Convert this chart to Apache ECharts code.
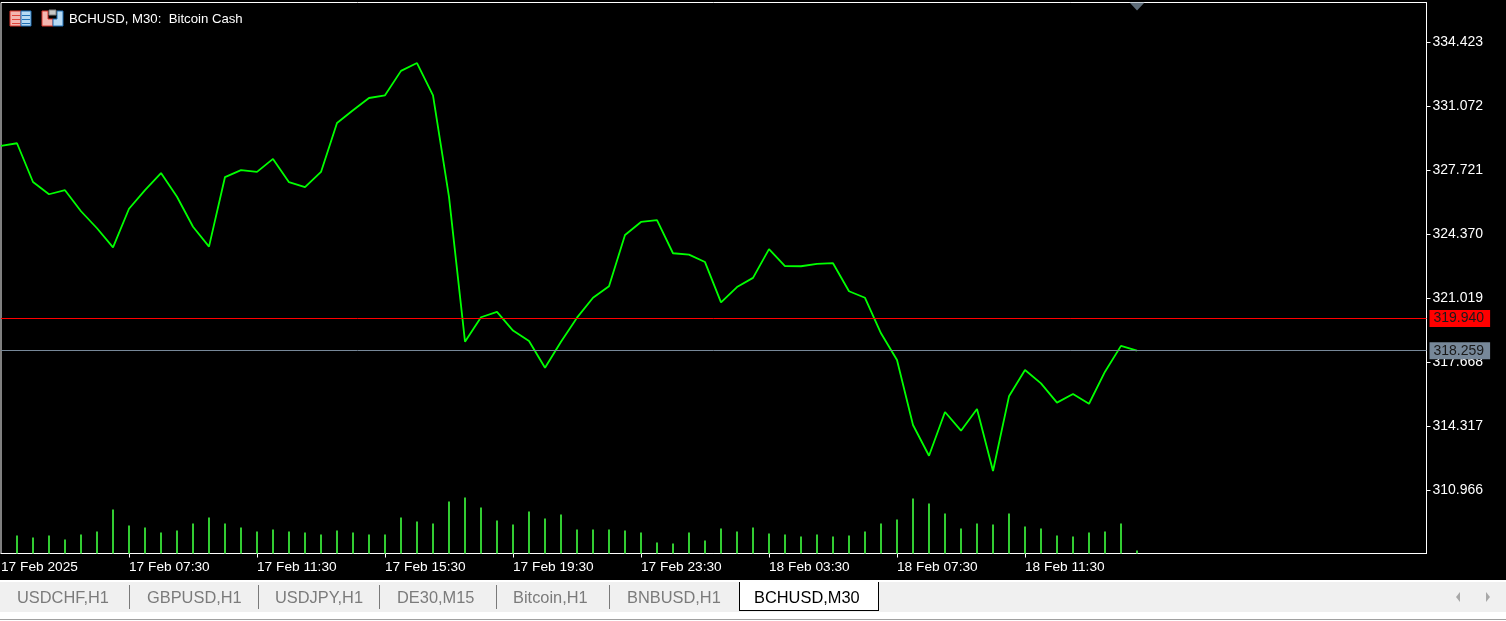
<!DOCTYPE html>
<html><head><meta charset="utf-8">
<style>html,body{margin:0;padding:0;background:#000;overflow:hidden}#c{width:1506px;height:621px}</style>
<script src="https://cdn.jsdelivr.net/npm/echarts@6/dist/echarts.min.js"></script>
</head><body><div id="c"></div>
<script>
const title = 'BCHUSD, M30:  Bitcoin Cash';
const prices = [328.98,329.12,327.09,326.45,326.66,325.56,324.67,323.67,325.69,326.67,327.56,326.32,324.75,323.71,327.35,327.71,327.62,328.30,327.08,326.82,327.62,330.18,330.85,331.49,331.63,332.91,333.32,331.63,326.31,318.73,320.01,320.29,319.31,318.77,317.37,318.73,319.99,321.03,321.63,324.32,325.00,325.09,323.36,323.29,322.90,320.79,321.59,322.07,323.58,322.69,322.68,322.80,322.84,321.37,321.03,319.17,317.77,314.37,312.76,315.05,314.07,315.21,311.96,315.87,317.25,316.55,315.54,315.99,315.48,317.16,318.51,318.26];
const volumes = [0,18,16,18,14,19,22,44,28,26,21,23,30,36,30,26,22,24,22,21,19,23,21,19,19,36,32,30,52,56,46,33,29,42,35,39,24,24,24,23,21,11,10,21,13,25,22,26,20,19,17,19,17,18,22,30,34,55,50,40,25,30,29,40,27,25,18,17,21,22,30,3];
const timeTicks = [0,8,16,24,32,40,48,56,64];
const timeLabels = ['17 Feb 2025','17 Feb 07:30','17 Feb 11:30','17 Feb 15:30','17 Feb 19:30','17 Feb 23:30','18 Feb 03:30','18 Feb 07:30','18 Feb 11:30'];
const priceTicks = [334.423,331.072,327.721,324.370,321.019,317.668,314.317,310.966];
const askPrice = 319.940, bidPrice = 318.259;
const tabs = ['USDCHF,H1','GBPUSD,H1','USDJPY,H1','DE30,M15','Bitcoin,H1','BNBUSD,H1','BCHUSD,M30'];

const FONT = '"Liberation Sans"';
const tabX = [17,147,275,397,513,627,754];
const sepX = [129,258,379,496,609];
const rect = (x,y,w,h,fill,extra)=>Object.assign({type:'rect',silent:true,shape:{x,y,width:w,height:h},style:{fill}},extra||{});
const g = [];
g.push(rect(0,580,1506,2,'#ffffff'));
g.push(rect(0,582,1506,30,'#f0f0f0'));
g.push(rect(0,612,1506,9,'#ffffff'));
g.push(rect(0,619,1506,1,'#a0a0a0'));
sepX.forEach(x=>g.push(rect(x,585,1,24,'#7a7a7a')));
g.push(rect(739,582,140,29,'#000000'));
g.push(rect(740,582,138,28,'#ffffff'));
tabs.forEach((t,i)=>g.push({type:'text',silent:true,style:{text:t,x:tabX[i],y:598,verticalAlign:'middle',align:'left',font:'16.4px '+FONT,fill:i===6?'#000000':'#7b7b7b'}}));
[[1458,-1],[1488,1]].forEach(([x,d])=>g.push({type:'polygon',silent:true,shape:{points:[[x-d*2,592],[x+d*2,597],[x-d*2,602]]},style:{fill:'#a8a8a8'}}));
g.push(rect(10,11,11,15,'#f4b6b0',{style:{fill:'#f4b6b0',stroke:'#d9342b',lineWidth:1}}));
g.push(rect(21,11,10,15,'#b6daf4',{style:{fill:'#b6daf4',stroke:'#1f6fb5',lineWidth:1}}));
[15,19,23].forEach(y=>{g.push(rect(12,y,8,1,'#e0443a'));g.push(rect(22,y,8,1,'#1f6fb5'));});
g.push({type:'polygon',silent:true,shape:{points:[[42,11],[48,11],[48,19],[53,19],[53,26],[42,26]]},style:{fill:'#f4b6b0',stroke:'#d9342b',lineWidth:1}});
g.push({type:'polygon',silent:true,shape:{points:[[57,11],[63,11],[63,26],[53,26],[53,19],[57,19]]},style:{fill:'#b6daf4',stroke:'#1f6fb5',lineWidth:1}});
g.push(rect(49,10,7,5,'#c8c8c8',{style:{fill:'#c8c8c8',stroke:'#808080',lineWidth:1}}));
g.push({type:'text',silent:true,style:{text:title,x:69,y:19,verticalAlign:'middle',font:'13.2px '+FONT,fill:'#ffffff'}});

const lastIndex = prices.length-1;
const chart = echarts.init(document.getElementById('c'),null,{renderer:'canvas'});
const priceLabel = (bg)=>({show:true,position:'end',distance:3,formatter:p=>p.value.toFixed(3),color:'#1a1a1a',backgroundColor:bg,fontFamily:FONT,fontSize:14,padding:[2,6,1,4],align:'left',verticalAlign:'middle'});
chart.setOption({
  animation:false,
  backgroundColor:'#000',
  graphic:g,
  grid:{left:1,top:2.5,width:1425.5,height:551,outerBoundsMode:'none',show:true,borderColor:'#fff',borderWidth:1,backgroundColor:'#000'},
  xAxis:{type:'value',min:0,max:1425.5/16,splitLine:{show:false},
    axisLine:{show:true,onZero:false,lineStyle:{color:'#fff'}},
    axisTick:{show:true,length:4,lineStyle:{color:'#fff'},customValues:timeTicks.slice(1)},
    axisLabel:{color:'#fff',fontFamily:FONT,fontSize:13.7,margin:7,align:'left',hideOverlap:false,showMinLabel:true,
      customValues:timeTicks,formatter:v=>timeLabels[timeTicks.indexOf(v)]||''}},
  yAxis:[
    {type:'value',position:'right',min:307.64,max:336.49,splitLine:{show:false},
      axisLine:{show:true,onZero:false,lineStyle:{color:'#fff'}},
      axisTick:{show:true,length:4,lineStyle:{color:'#fff'},customValues:priceTicks},
      axisLabel:{color:'#fff',fontFamily:FONT,fontSize:14,margin:6,customValues:priceTicks,formatter:v=>v.toFixed(3)}},
    {type:'value',min:0,max:551,show:false,splitLine:{show:false}}
  ],
  series:[
    {type:'bar',yAxisIndex:1,barWidth:2,silent:true,itemStyle:{color:'#32CD32'},data:volumes.map((v,i)=>[i,v])},
    {type:'line',yAxisIndex:0,showSymbol:false,symbol:'none',silent:true,z:5,lineStyle:{color:'#00FF00',width:1.8},data:prices.map((v,i)=>[i,v]),
      markLine:{silent:true,symbol:'none',animation:false,z:20,precision:3,data:[
        {yAxis:askPrice,lineStyle:{color:'#FF0000',width:1,type:'solid'},label:priceLabel('#FF0000')},
        {yAxis:bidPrice,lineStyle:{color:'#778899',width:1,type:'solid'},label:priceLabel('#778899')}
      ]}},
    {type:'scatter',yAxisIndex:0,silent:true,symbol:'triangle',symbolRotate:180,symbolSize:[15,8],itemStyle:{color:'#778899'},data:[[lastIndex,336.28]]}
  ]
});
</script></body></html>
